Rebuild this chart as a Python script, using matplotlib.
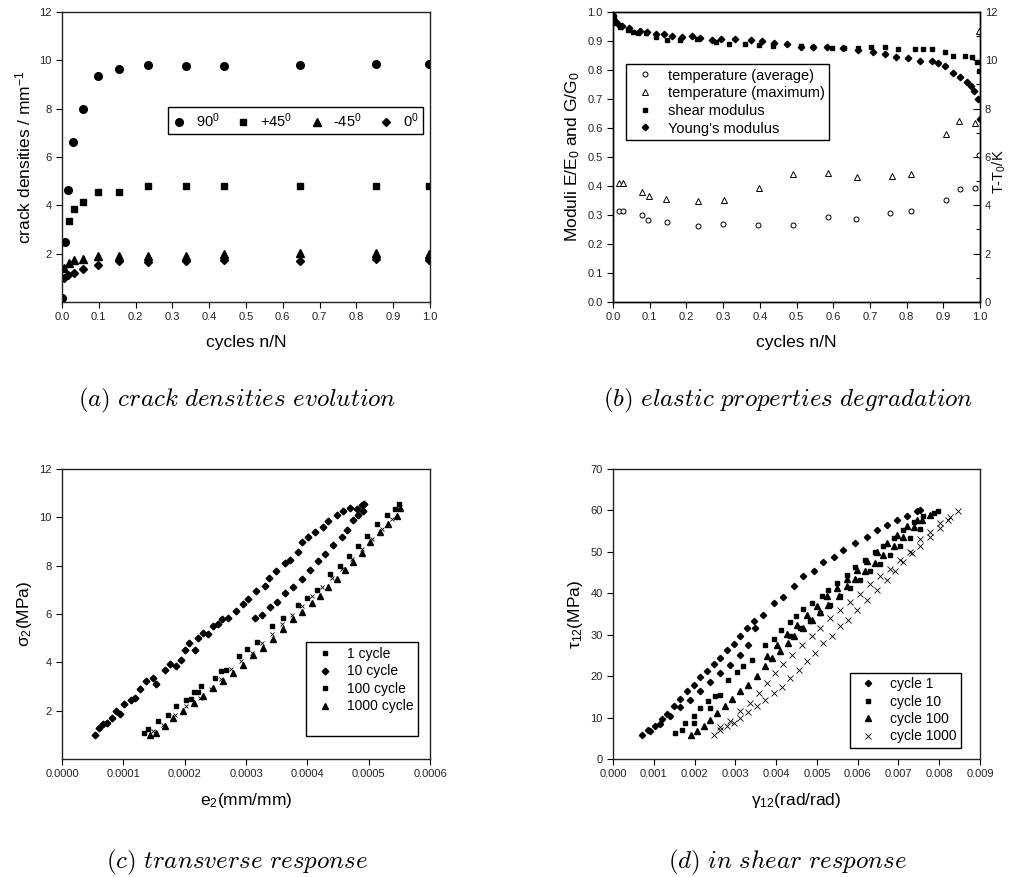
import numpy as np
import matplotlib.pyplot as plt
from matplotlib.ticker import MultipleLocator, FormatStrFormatter

plt.rcParams['font.family'] = ['Liberation Sans', 'DejaVu Sans']
plt.rcParams['mathtext.fontset'] = 'custom'
plt.rcParams['mathtext.rm'] = 'Liberation Sans'
plt.rcParams['mathtext.it'] = 'Liberation Sans:italic'
plt.rcParams['axes.linewidth'] = 1.0

# ---- (a) crack densities ----
a_x90 = [0.0, 0.008, 0.015, 0.031, 0.058, 0.099, 0.156, 0.233, 0.338, 0.441, 0.647, 0.854, 0.998]
a_y90 = [0.15, 2.5, 4.63, 6.6, 7.99, 9.34, 9.64, 9.82, 9.77, 9.77, 9.79, 9.85, 9.86]
a_xp45 = [0.018, 0.032, 0.058, 0.099, 0.156, 0.233, 0.338, 0.441, 0.647, 0.854, 0.998]
a_yp45 = [3.36, 3.84, 4.14, 4.54, 4.54, 4.81, 4.79, 4.81, 4.79, 4.79, 4.79]
a_xm45 = [0.005, 0.018, 0.032, 0.058, 0.099, 0.156, 0.233, 0.338, 0.441, 0.647, 0.854, 0.998]
a_ym45 = [1.42, 1.62, 1.72, 1.79, 1.91, 1.90, 1.90, 1.89, 2.0, 2.01, 2.02, 1.99]
a_x0 = [0.005, 0.017, 0.032, 0.058, 0.099, 0.156, 0.233, 0.338, 0.441, 0.647, 0.854, 0.998]
a_y0 = [1.0, 1.12, 1.19, 1.35, 1.54, 1.68, 1.66, 1.68, 1.72, 1.68, 1.76, 1.73]

# ---- (b) elastic properties degradation ----
b_x_young = [0.0, 0.005, 0.014, 0.025, 0.044, 0.073, 0.093, 0.118, 0.138, 0.162, 0.187, 0.214,
             0.236, 0.269, 0.293, 0.332, 0.377, 0.405, 0.438, 0.473, 0.512, 0.545, 0.582, 0.627,
             0.668, 0.709, 0.741, 0.771, 0.805, 0.836, 0.868, 0.886, 0.905, 0.927, 0.945, 0.964,
             0.975, 0.984, 0.995, 1.0]
b_y_young = [0.991, 0.970, 0.959, 0.953, 0.944, 0.936, 0.930, 0.923, 0.923, 0.917, 0.915, 0.917,
             0.909, 0.903, 0.908, 0.906, 0.903, 0.901, 0.892, 0.890, 0.880, 0.880, 0.878, 0.875,
             0.869, 0.861, 0.854, 0.846, 0.843, 0.832, 0.831, 0.825, 0.814, 0.789, 0.775, 0.760,
             0.746, 0.728, 0.699, 0.630]
b_x_shear = [0.002, 0.007, 0.018, 0.041, 0.055, 0.068, 0.091, 0.118, 0.147, 0.182, 0.229, 0.282,
             0.316, 0.359, 0.398, 0.436, 0.511, 0.545, 0.598, 0.630, 0.668, 0.703, 0.741, 0.777,
             0.823, 0.845, 0.868, 0.905, 0.927, 0.959, 0.977, 0.991, 0.997]
b_y_shear = [0.978, 0.961, 0.947, 0.938, 0.932, 0.926, 0.926, 0.913, 0.903, 0.903, 0.906, 0.898,
             0.890, 0.889, 0.886, 0.883, 0.883, 0.880, 0.877, 0.875, 0.875, 0.880, 0.878, 0.871,
             0.872, 0.871, 0.871, 0.863, 0.848, 0.848, 0.844, 0.829, 0.797]
b_x_tavg = [0.015, 0.028, 0.080, 0.096, 0.147, 0.231, 0.301, 0.395, 0.491, 0.585, 0.661, 0.755,
            0.811, 0.906, 0.945, 0.986, 0.998]
b_t_avg = [3.78, 3.78, 3.60, 3.38, 3.30, 3.13, 3.24, 3.19, 3.17, 3.52, 3.42, 3.70,
           3.78, 4.21, 4.69, 4.72, 6.1]
b_x_tmax = [0.015, 0.028, 0.080, 0.098, 0.144, 0.231, 0.302, 0.398, 0.491, 0.586, 0.665, 0.759,
            0.812, 0.906, 0.944, 0.987, 0.998]
b_t_max = [4.91, 4.91, 4.54, 4.39, 4.26, 4.18, 4.21, 4.72, 5.30, 5.32, 5.17, 5.21,
           5.30, 6.94, 7.49, 7.41, 11.2]

# ---- (c) transverse response ----
c_e_10 = [0.0000533, 0.0000604, 0.0000669, 0.0000734, 0.0000821, 0.0000887, 0.0000941, 0.0001006,
          0.000113, 0.0001186, 0.0001267, 0.0001376, 0.0001485, 0.000154, 0.0001676, 0.0001768,
          0.0001866, 0.0001947, 0.0002002, 0.0002072, 0.0002165, 0.0002219, 0.0002301, 0.0002382,
          0.0002464, 0.0002546, 0.0002616, 0.0002709, 0.0002845, 0.0002954, 0.0003035, 0.000316,
          0.0003307, 0.0003378, 0.0003497, 0.0003633, 0.0003715, 0.0003851, 0.0003906, 0.0004014,
          0.0004123, 0.0004259, 0.0004341, 0.0004477, 0.0004586, 0.0004695, 0.0004804, 0.0004885,
          0.0004923,
          0.0003144, 0.0003253, 0.0003389, 0.00035, 0.0003633, 0.0003769, 0.0003906, 0.0004042,
          0.0004178, 0.0004287, 0.0004423, 0.0004559, 0.0004641, 0.0004749, 0.0004831, 0.0004913]
c_s_10 = [1.01, 1.29, 1.45, 1.50, 1.70, 1.98, 1.88, 2.26,
          2.44, 2.53, 2.91, 3.22, 3.36, 3.09, 3.70, 3.95,
          3.84, 4.09, 4.53, 4.81, 4.53, 5.02, 5.23, 5.16,
          5.51, 5.58, 5.78, 5.85, 6.13, 6.41, 6.64, 6.96,
          7.17, 7.47, 7.79, 8.11, 8.25, 8.56, 8.97, 9.18,
          9.38, 9.59, 9.83, 10.08, 10.28, 10.39, 10.35, 10.52,
          10.56,
          5.82, 5.95, 6.27, 6.48, 6.86, 7.10, 7.44, 7.83,
          8.21, 8.48, 8.85, 9.18, 9.49, 9.87, 10.10, 10.28]
c_e_100 = [0.0001333, 0.0001404, 0.0001567, 0.000173, 0.0001855, 0.0002018, 0.0002111, 0.0002149,
           0.0002219, 0.0002274, 0.0002491, 0.00026, 0.0002682, 0.0002888, 0.0003019, 0.0003182,
           0.0003432, 0.0003606, 0.000384, 0.0003987, 0.0004151, 0.0004368, 0.0004531, 0.0004683,
           0.000483, 0.0004967, 0.000513, 0.0005293, 0.0005429, 0.0005499]
c_s_100 = [1.08, 1.24, 1.56, 1.84, 2.19, 2.46, 2.49, 2.78,
           2.78, 3.04, 3.36, 3.64, 3.68, 4.26, 4.54, 4.86,
           5.51, 5.83, 6.38, 6.66, 7.00, 7.65, 8.00, 8.39,
           8.83, 9.24, 9.73, 10.08, 10.35, 10.56]
c_e_1000 = [0.000143, 0.000154, 0.0001676, 0.0001811, 0.0001975, 0.0002154, 0.0002301, 0.0002464,
            0.0002627, 0.0002791, 0.0002954, 0.0003117, 0.000328, 0.0003443, 0.0003606, 0.0003769,
            0.0003906, 0.0004069, 0.0004205, 0.0004341, 0.0004477, 0.0004614, 0.0004749, 0.0004885,
            0.0005022, 0.0005185, 0.000532, 0.0005457, 0.0005511]
c_s_1000 = [1.01, 1.08, 1.36, 1.70, 1.98, 2.30, 2.60, 2.95,
            3.22, 3.57, 3.88, 4.29, 4.61, 4.98, 5.40, 5.78,
            6.08, 6.47, 6.75, 7.10, 7.44, 7.83, 8.16, 8.52,
            8.97, 9.38, 9.73, 10.05, 10.38]
c_e_x = [0.0001485, 0.0001648, 0.0001839, 0.0002029, 0.0002247, 0.0002437, 0.00026, 0.0002763,
         0.0002926, 0.000309, 0.0003253, 0.0003416, 0.0003579, 0.0003742, 0.0003906, 0.0004069,
         0.0004232, 0.0004396, 0.0004559, 0.0004722, 0.0004885, 0.0005049, 0.0005212, 0.0005376,
         0.0005511]
c_s_x = [1.15, 1.42, 1.84, 2.19, 2.53, 2.91, 3.32, 3.71,
         4.06, 4.40, 4.79, 5.16, 5.58, 5.95, 6.34, 6.73,
         7.10, 7.47, 7.86, 8.28, 8.69, 9.10, 9.52, 9.93,
         10.42]

# ---- (d) in-plane shear response ----
d_g_1 = [0.00071, 0.00087, 0.00104, 0.00120, 0.00132, 0.00149, 0.00165, 0.00181, 0.00198, 0.00214,
         0.00230, 0.00247, 0.00263, 0.00279, 0.00296, 0.00312, 0.00328, 0.00345, 0.00369, 0.00394,
         0.00418, 0.00443, 0.00467, 0.00492, 0.00516, 0.00541, 0.00565, 0.00594, 0.00622, 0.00647,
         0.00671, 0.00696, 0.00720, 0.00745, 0.00753,
         0.00091, 0.00116, 0.00140, 0.00165, 0.00189, 0.00214, 0.00238, 0.00263, 0.00287, 0.00312,
         0.00332, 0.00349]
d_t_1 = [5.7, 6.9, 8.0, 9.7, 10.9, 12.7, 14.5, 16.3, 17.9, 19.8,
         21.2, 23.0, 24.4, 26.2, 27.8, 29.8, 31.6, 33.2, 34.8, 37.7,
         39.1, 41.7, 44.1, 45.5, 47.5, 48.8, 50.5, 52.1, 53.6, 55.2,
         56.6, 57.8, 58.7, 59.8, 60.0,
         6.7, 8.5, 10.5, 12.6, 14.3, 16.3, 18.5, 20.8, 22.8, 25.2,
         27.6, 31.6]
d_g_10 = [0.00153, 0.00169, 0.00177, 0.00199, 0.00199, 0.00214, 0.00232, 0.00238, 0.00251, 0.00263,
          0.00283, 0.00305, 0.00320, 0.00341, 0.00373, 0.00394, 0.00412, 0.00435, 0.00448, 0.00467,
          0.00488, 0.00512, 0.00528, 0.00549, 0.00573, 0.00594, 0.00618, 0.00643, 0.00663, 0.00688,
          0.00712, 0.00737, 0.00761, 0.00786, 0.00798,
          0.00435, 0.00459, 0.00484, 0.00508, 0.00532, 0.00557, 0.00582, 0.00606, 0.00631, 0.00655,
          0.00680, 0.00704, 0.00729, 0.00753]
d_t_10 = [6.3, 6.9, 8.7, 8.7, 10.3, 12.3, 13.9, 12.3, 15.3, 15.5,
          19.1, 20.9, 22.4, 24.0, 27.6, 29.0, 31.1, 33.0, 34.4, 36.2,
          37.7, 39.4, 40.9, 42.6, 44.5, 46.3, 48.0, 49.9, 51.5, 53.3,
          55.3, 57.1, 58.7, 59.4, 59.8,
          29.6, 31.6, 33.2, 35.2, 37.2, 39.4, 41.3, 43.3, 45.3, 47.1,
          49.3, 51.3, 53.3, 55.5]
d_g_100 = [0.00191, 0.00207, 0.00222, 0.00238, 0.00255, 0.00275, 0.00292, 0.00312, 0.00332, 0.00353,
           0.00373, 0.00390, 0.00410, 0.00430, 0.00443, 0.00467, 0.00488, 0.00508, 0.00528, 0.00553,
           0.00573, 0.00594, 0.00618, 0.00643, 0.00663, 0.00688, 0.00712, 0.00737, 0.00757, 0.00778,
           0.00377, 0.00402, 0.00426, 0.00451, 0.00475, 0.00500, 0.00524, 0.00549, 0.00573, 0.00598,
           0.00622, 0.00647, 0.00671, 0.00696, 0.00720, 0.00745]
d_t_100 = [5.9, 6.7, 8.0, 9.5, 11.1, 12.7, 14.5, 16.3, 17.9, 20.0,
           22.4, 24.4, 26.0, 28.0, 29.8, 31.6, 33.6, 35.4, 37.2, 39.3,
           41.7, 43.4, 45.3, 47.3, 49.3, 51.3, 53.7, 56.0, 57.8, 59.0,
           24.9, 27.6, 30.2, 32.4, 34.8, 37.0, 39.3, 41.3, 43.4, 45.7,
           47.7, 49.9, 52.1, 54.1, 56.3, 57.8]
d_g_1000 = [0.00247, 0.00263, 0.00279, 0.00296, 0.00312, 0.00332, 0.00353, 0.00373, 0.00394, 0.00414,
            0.00435, 0.00455, 0.00475, 0.00496, 0.00516, 0.00537, 0.00557, 0.00577, 0.00598, 0.00622,
            0.00647, 0.00671, 0.00692, 0.00712, 0.00733, 0.00753, 0.00778, 0.00802, 0.00822, 0.00847,
            0.00263, 0.00287, 0.00312, 0.00336, 0.00357, 0.00377, 0.00398, 0.00418, 0.00439, 0.00463,
            0.00488, 0.00508, 0.00532, 0.00557, 0.00582, 0.00606, 0.00631, 0.00655, 0.00680, 0.00704,
            0.00729, 0.00753, 0.00778, 0.00802, 0.00827]
d_t_1000 = [5.9, 7.1, 7.9, 8.8, 9.9, 11.3, 12.7, 14.3, 15.9, 17.5,
            19.5, 21.6, 23.6, 25.6, 28.0, 29.6, 32.0, 33.6, 36.0, 38.5,
            40.9, 43.3, 45.3, 47.5, 49.7, 51.5, 53.7, 55.8, 57.8, 59.8,
            7.7, 9.1, 11.5, 13.5, 15.9, 18.3, 20.8, 23.0, 25.2, 27.6,
            29.6, 31.6, 34.0, 36.0, 37.8, 39.9, 42.3, 44.1, 45.9, 48.1,
            49.9, 53.0, 54.9, 57.0, 58.4]

captions = [r'$(a)\ crack\ densities\ evolution$',
            r'$(b)\ elastic\ properties\ degradation$',
            r'$(c)\ transverse\ response$',
            r'$(d)\ in\ shear\ response$']

fig = plt.figure(figsize=(10.09, 8.77), dpi=100)
W, H = 1009, 877
def box(x0, x1, y0, y1):
    return [x0 / W, 1 - y1 / H, (x1 - x0) / W, (y1 - y0) / H]

ax_a = fig.add_axes(box(62, 430, 12, 302))
ax_b = fig.add_axes(box(613, 980, 12, 302))
ax_c = fig.add_axes(box(62, 430, 469, 759))
ax_d = fig.add_axes(box(613, 980, 469, 759))

tick_kw = dict(labelsize=8, labelcolor='#222222', direction='out', length=4, width=0.8)
lab_fs = 12.5
leg_kw = dict(frameon=True, fancybox=False, framealpha=1, edgecolor='black',
              borderaxespad=0, handletextpad=0.6)

def style(ax):
    ax.tick_params(**tick_kw)
    for s in ax.spines.values():
        s.set_color('#222222')

# (a)
mk = dict(ls='none', color='black')
ax_a.plot(a_x90, a_y90, marker='o', ms=5.5, label='90$^0$', **mk)
ax_a.plot(a_xp45, a_yp45, marker='s', ms=4.6, label='+45$^0$', **mk)
ax_a.plot(a_xm45, a_ym45, marker='^', ms=5.5, label='-45$^0$', **mk)
ax_a.plot(a_x0, a_y0, marker='D', ms=4.3, label='0$^0$', **mk)
ax_a.set_xlim(0, 1)
ax_a.set_ylim(0, 12)
ax_a.xaxis.set_major_locator(MultipleLocator(0.1))
ax_a.xaxis.set_major_formatter(FormatStrFormatter('%.1f'))
ax_a.set_yticks([2, 4, 6, 8, 10, 12])
ax_a.set_xlabel('cycles n/N', fontsize=lab_fs, labelpad=9)
ax_a.set_ylabel('crack densities / mm$^{-1}$', fontsize=lab_fs)
style(ax_a)
leg = ax_a.legend(loc='upper left', bbox_to_anchor=(0.288, 0.672), ncol=4, fontsize=10.5,
                  columnspacing=1.2, borderpad=0.3, handlelength=0.9, frameon=True,
                  fancybox=False, framealpha=1, edgecolor='black', borderaxespad=0,
                  handletextpad=0.7)
leg.get_frame().set_linewidth(1.0)

# (b)
ax_b2 = ax_b.twinx()
ax_b2.plot(b_x_tavg, b_t_avg, marker='o', ms=3.6, mfc='white', mew=0.7,
           label='temperature (average)', **mk)
ax_b2.plot(b_x_tmax, b_t_max, marker='^', ms=4.2, mfc='white', mew=0.7,
           label='temperature (maximum)', **mk)
ax_b2.plot(b_x_shear, np.array(b_y_shear) * 12, marker='s', ms=3.3, label='shear modulus', **mk)
ax_b2.plot(b_x_young, np.array(b_y_young) * 12, marker='D', ms=3.3, label="Young's modulus", **mk)
ax_b.set_xlim(0, 1)
ax_b.set_ylim(0, 1)
ax_b2.set_ylim(0, 12)
ax_b.xaxis.set_major_locator(MultipleLocator(0.1))
ax_b.xaxis.set_major_formatter(FormatStrFormatter('%.1f'))
ax_b.yaxis.set_major_locator(MultipleLocator(0.1))
ax_b.yaxis.set_major_formatter(FormatStrFormatter('%.1f'))
ax_b.set_xlabel('cycles n/N', fontsize=lab_fs, labelpad=9)
ax_b.set_ylabel('Moduli E/E$_0$ and G/G$_0$', fontsize=lab_fs)
style(ax_b)
ax_b2.yaxis.set_major_locator(MultipleLocator(2))
ax_b2.yaxis.set_minor_locator(MultipleLocator(1))
ax_b2.tick_params(which='major', direction='in', length=5, width=0.8, labelsize=8, labelcolor='#222222')
ax_b2.tick_params(which='minor', direction='in', length=3, width=0.8)
ax_b2.set_ylabel('T-T$_0$/K', fontsize=10.5)
ax_b2.yaxis.set_label_coords(1.03, 0.45)
leg = ax_b2.legend(loc='upper left', bbox_to_anchor=(0.035, 0.82), fontsize=10.5,
                   borderpad=0.3, handlelength=2.0, labelspacing=0.25, **leg_kw)
leg.get_frame().set_linewidth(1.0)

# (c)
h1, = ax_c.plot([], [], marker='s', ms=3.2, label='1 cycle', **mk)
h10, = ax_c.plot(c_e_10, c_s_10, marker='D', ms=3.4, label='10 cycle', **mk)
h100, = ax_c.plot(c_e_100, c_s_100, marker='s', ms=3.4, label='100 cycle', **mk)
h1000, = ax_c.plot(c_e_1000, c_s_1000, marker='^', ms=3.8, label='1000 cycle', **mk)
hx, = ax_c.plot(c_e_x, c_s_x, marker='x', ms=3.5, mew=0.6, label=' ', **mk)
ax_c.set_xlim(0, 0.0006)
ax_c.set_ylim(0, 12)
ax_c.xaxis.set_major_locator(MultipleLocator(0.0001))
ax_c.xaxis.set_major_formatter(FormatStrFormatter('%.4f'))
ax_c.set_yticks([2, 4, 6, 8, 10, 12])
ax_c.set_xlabel('e$_2$(mm/mm)', fontsize=lab_fs, labelpad=8)
ax_c.set_ylabel('σ$_2$(MPa)', fontsize=lab_fs)
style(ax_c)
leg = ax_c.legend(handles=[h1, h10, h100, h1000, hx], loc='upper left',
                  bbox_to_anchor=(0.663, 0.403), fontsize=10, borderpad=0.35,
                  handlelength=2.0, labelspacing=0.25, **leg_kw)
leg.legend_handles[4].set_visible(False)
leg.get_frame().set_linewidth(1.0)

# (d)
ax_d.plot(d_g_1, d_t_1, marker='D', ms=3.2, label='cycle 1', **mk)
ax_d.plot(d_g_10, d_t_10, marker='s', ms=3.4, label='cycle 10', **mk)
ax_d.plot(d_g_100, d_t_100, marker='^', ms=3.8, label='cycle 100', **mk)
ax_d.plot(d_g_1000, d_t_1000, marker='x', ms=3.8, mew=0.6, label='cycle 1000', **mk)
ax_d.set_xlim(0, 0.009)
ax_d.set_ylim(0, 70)
ax_d.xaxis.set_major_locator(MultipleLocator(0.001))
ax_d.xaxis.set_major_formatter(FormatStrFormatter('%.3f'))
ax_d.yaxis.set_major_locator(MultipleLocator(10))
ax_d.set_xlabel('γ$_{12}$(rad/rad)', fontsize=lab_fs, labelpad=8)
ax_d.set_ylabel('τ$_{12}$(MPa)', fontsize=lab_fs)
style(ax_d)
leg = ax_d.legend(loc='upper left', bbox_to_anchor=(0.646, 0.297), fontsize=10,
                  borderpad=0.3, handlelength=2.0, labelspacing=0.25, **leg_kw)
leg.get_frame().set_linewidth(1.0)

# sub-captions
cap_pos = [(237, 400), (788, 400), (237, 862), (787, 862)]
for (cx, cy), txt in zip(cap_pos, captions):
    fig.text(cx / W, 1 - cy / H, txt, ha='center', va='center', fontsize=18,
             math_fontfamily='cm')

fig.savefig('out.png', dpi=100)
